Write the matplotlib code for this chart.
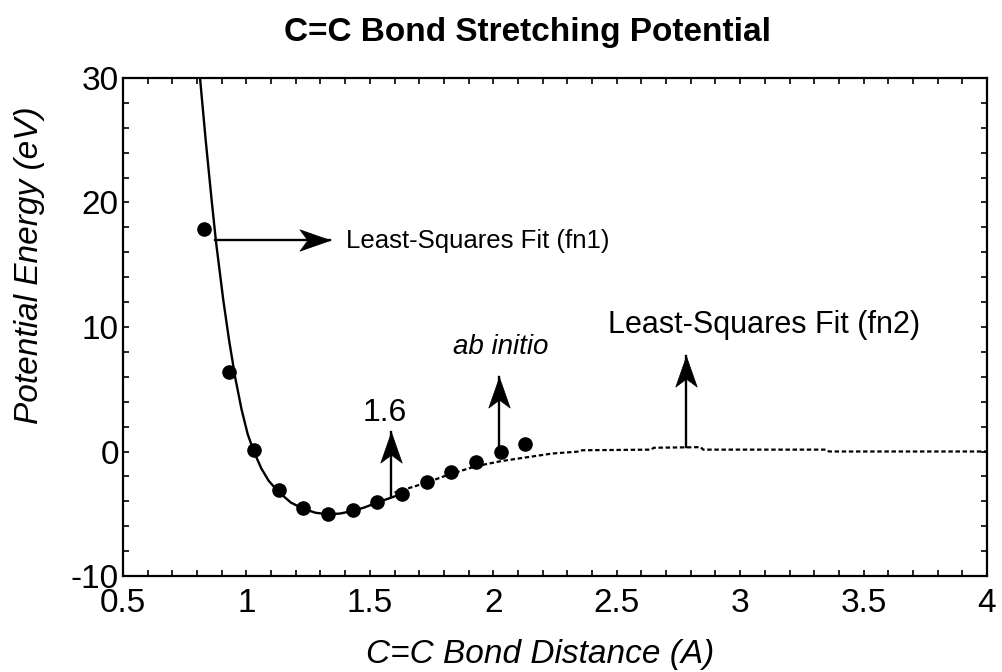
import matplotlib
matplotlib.use("Agg")
import matplotlib.pyplot as plt
from matplotlib.path import Path
from matplotlib.markers import MarkerStyle
from matplotlib.ticker import MultipleLocator

plt.rcParams["font.family"] = ["Liberation Sans", "DejaVu Sans"]

# ab initio energies (eV) vs C=C distance (A)
ab_x = [0.83, 0.93, 1.03, 1.13, 1.23, 1.33, 1.43, 1.53, 1.63, 1.73, 1.83, 1.93, 2.03, 2.13]
ab_y = [17.9, 6.4, 0.1, -3.1, -4.5, -5.05, -4.7, -4.05, -3.4, -2.45, -1.65, -0.85, -0.05, 0.6]

# least-squares fit, function 1 (short range)
fn1_x = [0.812, 0.835, 0.859, 0.877, 0.906, 0.930, 0.955, 0.980, 1.005, 1.030,
         1.060, 1.090, 1.130, 1.180, 1.230, 1.280, 1.330, 1.380, 1.430, 1.480,
         1.530, 1.580, 1.622]
fn1_y = [30.0, 25.0, 20.2, 16.8, 12.2, 8.9, 5.9, 3.4, 1.4, 0.0,
         -1.35, -2.35, -3.25, -4.1, -4.6, -4.92, -5.05, -4.98, -4.78, -4.48,
         -4.1, -3.75, -3.45]

# least-squares fit, function 2 (long range)
fn2_x = [1.60, 1.73, 1.82, 1.93, 2.03, 2.12, 2.24, 2.35, 2.36, 2.64, 2.65,
         2.84, 2.85, 3.35, 3.36, 4.00]
fn2_y = [-3.3, -2.5, -1.85, -1.18, -0.78, -0.51, -0.16, 0.0, 0.1, 0.15, 0.3,
         0.35, 0.15, 0.15, 0.0, 0.0]

x_ticks = [0.5, 1, 1.5, 2, 2.5, 3, 3.5, 4]
x_ticklabels = ["0.5", "1", "1.5", "2", "2.5", "3", "3.5", "4"]
y_ticks = [-10, 0, 10, 20, 30]
y_ticklabels = ["-10", "0", "10", "20", "30"]

fig = plt.figure(figsize=(10.02, 6.72), dpi=100)
ax = fig.add_axes([123 / 1002, 1 - 576 / 672, 864 / 1002, 498 / 672])

ax.plot(fn1_x, fn1_y, color="black", lw=1.7, solid_joinstyle="round")
ax.plot(fn2_x, fn2_y, color="black", lw=1.6, linestyle=(0, (2.0, 1.2)))
ax.plot(ab_x, ab_y, "o", color="black", ms=9.5, zorder=3)

ax.set_xlim(0.5, 4)
ax.set_ylim(-10, 30)
ax.set_xticks(x_ticks)
ax.set_xticklabels(x_ticklabels)
ax.set_yticks(y_ticks)
ax.set_yticklabels(y_ticklabels)
ax.xaxis.set_minor_locator(MultipleLocator(0.1))
ax.yaxis.set_minor_locator(MultipleLocator(2))
ax.tick_params(which="both", direction="in", top=True, right=True,
               length=4, width=1.2, labelsize=24)
ax.tick_params(axis="x", pad=9)
ax.tick_params(axis="y", pad=3)
for s in ax.spines.values():
    s.set_linewidth(1.6)

# notched arrowhead, tip at the origin, pointing up
head_path = Path([(0, 0), (-0.35, -1.0), (0, -0.74), (0.35, -1.0), (0, 0)],
                 [Path.MOVETO, Path.LINETO, Path.LINETO, Path.LINETO, Path.CLOSEPOLY])


def arrow(x0, y0, x1, y1, angle):
    ax.plot([x0, x1], [y0, y1], color="black", lw=1.7, zorder=4)
    m = MarkerStyle(head_path).rotated(deg=angle)
    ax.plot([x1], [y1], marker=m, ms=44, color="black", mec="black", mew=0.5,
            zorder=5, clip_on=False)


arrow(0.873, 17.0, 1.34, 17.0, -90)
arrow(1.585, -3.6, 1.585, 1.6, 0)
arrow(2.025, -0.05, 2.025, 6.0, 0)
arrow(2.78, 0.35, 2.78, 7.7, 0)

ax.text(1.403, 16.9, "Least-Squares Fit (fn1)", fontsize=18.5, va="center", ha="left")
ax.text(1.561, 3.1, "1.6", fontsize=23, va="center", ha="center")
ax.text(2.03, 8.4, "ab initio", fontsize=20, va="center", ha="center", style="italic")
ax.text(3.096, 10.2, "Least-Squares Fit (fn2)", fontsize=22, va="center", ha="center")

fig.text(528 / 1002, 1 - 33 / 672, "C=C Bond Stretching Potential",
         fontsize=24, fontweight="bold", ha="center", va="center")
fig.text(540 / 1002, 1 - 655 / 672, "C=C Bond Distance (A)",
         fontsize=24, style="italic", ha="center", va="center")
fig.text(30 / 1002, 1 - 265 / 672, "Potential Energy (eV)",
         fontsize=24, style="italic", ha="center", va="center", rotation=90)

fig.savefig("out.png", dpi=100)
